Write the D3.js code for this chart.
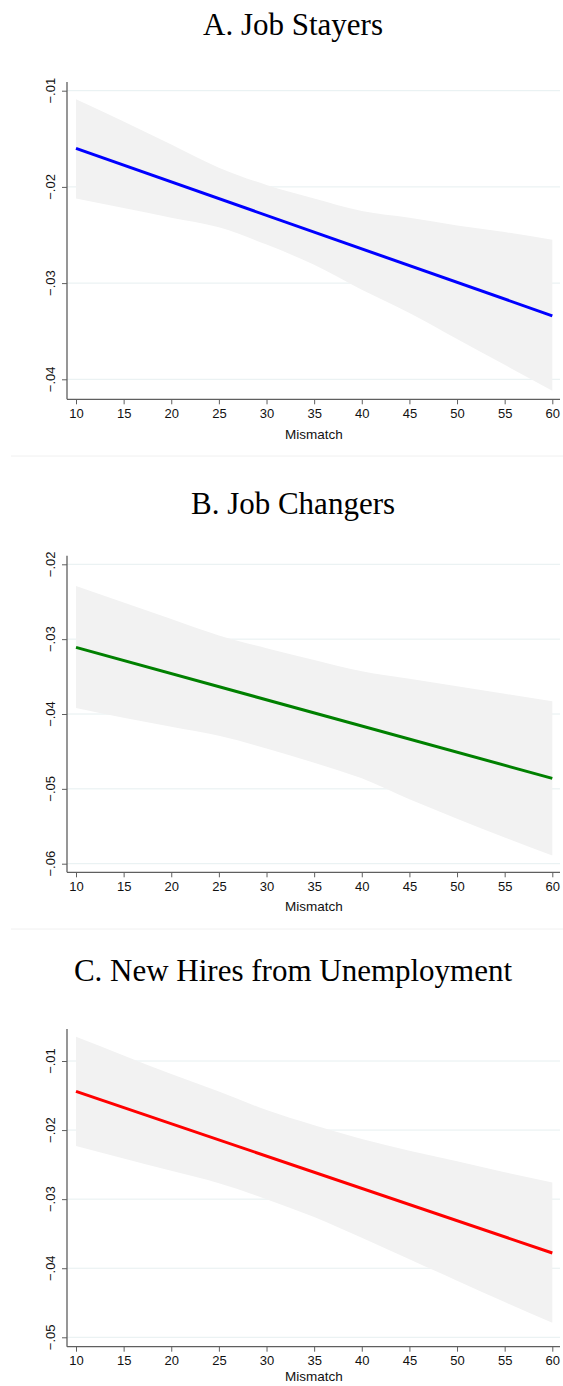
<!DOCTYPE html>
<html>
<head>
<meta charset="utf-8">
<script src="https://cdn.jsdelivr.net/npm/d3@7"></script>
<style>
  body { margin: 0; background: #fff; }
  svg { display: block; }
</style>
</head>
<body>
<svg id="fig" width="563" height="1386"></svg>
<script>
// Mismatch grid for the confidence bands, and endpoints of the linear fits
const mismatch = [10, 15, 20, 25, 30, 35, 40, 45, 50, 55, 60];
const fitEnds = [10, 60];
const xTicks = [10, 15, 20, 25, 30, 35, 40, 45, 50, 55, 60];
const xLabel = "Mismatch";

// A. Job Stayers
const stayersTitle = "A. Job Stayers";
const stayersFit = [-0.0160, -0.0334];
const stayersUpper = [-0.0109, -0.0132, -0.0156, -0.0180, -0.0198, -0.0212, -0.0225, -0.0232, -0.0240, -0.0247, -0.0255];
const stayersLower = [-0.0212, -0.0222, -0.0232, -0.0242, -0.0260, -0.0281, -0.0307, -0.0331, -0.0358, -0.0385, -0.0412];
const stayersTicks = [-0.01, -0.02, -0.03, -0.04];

// B. Job Changers
const changersTitle = "B. Job Changers";
const changersFit = [-0.0311, -0.0486];
const changersUpper = [-0.0229, -0.0251, -0.0273, -0.0295, -0.0312, -0.0328, -0.0343, -0.0353, -0.0363, -0.0373, -0.0383];
const changersLower = [-0.0392, -0.0405, -0.0417, -0.0429, -0.0446, -0.0465, -0.0486, -0.0514, -0.0540, -0.0565, -0.0589];
const changersTicks = [-0.02, -0.03, -0.04, -0.05, -0.06];

// C. New Hires from Unemployment
const hiresTitle = "C. New Hires from Unemployment";
const hiresFit = [-0.0144, -0.0378];
const hiresUpper = [-0.0065, -0.0092, -0.0119, -0.0144, -0.0171, -0.0193, -0.0213, -0.0230, -0.0245, -0.0261, -0.0276];
const hiresLower = [-0.0223, -0.0241, -0.0259, -0.0277, -0.0300, -0.0326, -0.0356, -0.0387, -0.0418, -0.0449, -0.0479];
const hiresTicks = [-0.01, -0.02, -0.03, -0.04, -0.05];

// Panel layout (pixels)
const panels = [
  { title: stayersTitle, fit: stayersFit, upper: stayersUpper, lower: stayersLower, ticks: stayersTicks,
    color: "#0000ff", titleY: 35, top: 82, tickPix: [90.7, 379.3], axisY: 399.3, labelY: 438.5 },
  { title: changersTitle, fit: changersFit, upper: changersUpper, lower: changersLower, ticks: changersTicks,
    color: "#008000", titleY: 513.6, top: 555.7, tickPix: [564.3, 863.7], axisY: 872.3, labelY: 911 },
  { title: hiresTitle, fit: hiresFit, upper: hiresUpper, lower: hiresLower, ticks: hiresTicks,
    color: "#ff0000", titleY: 981, top: 1029, tickPix: [1061, 1337.3], axisY: 1346.7, labelY: 1381 }
];
const separators = [456, 929];

const axisLeftX = 67, axisRightX = 560;
const axisColor = "#5f5f5f";
const gridColor = "#e6eff0";
const bandColor = "#f2f2f2";
const sans = "'Liberation Sans', Arial, Helvetica, sans-serif";
const serif = "'Liberation Serif', 'Times New Roman', Times, serif";

const svg = d3.select("#fig");
const x = d3.scaleLinear().domain([10, 60]).range([76, 552.3]);
const fmt = v => d3.format(".2f")(v).replace("0.", ".");

separators.forEach(sy => {
  svg.append("line")
    .attr("x1", 11).attr("x2", 563).attr("y1", sy).attr("y2", sy)
    .attr("stroke", "#f0f0f0").attr("stroke-width", 1);
});

panels.forEach(p => {
  const g = svg.append("g");
  const first = p.ticks[0], last = p.ticks[p.ticks.length - 1];
  const y = d3.scaleLinear().domain([first, last]).range(p.tickPix);

  // title
  g.append("text")
    .attr("x", 293).attr("y", p.titleY)
    .attr("text-anchor", "middle")
    .style("font-family", serif).style("font-size", "31px").attr("fill", "#000")
    .text(p.title);

  // horizontal gridlines
  g.selectAll(".grid").data(p.ticks).enter().append("line")
    .attr("x1", axisLeftX).attr("x2", axisRightX)
    .attr("y1", d => y(d)).attr("y2", d => y(d))
    .attr("stroke", gridColor).attr("stroke-width", 1);

  // confidence band
  const band = mismatch.map((m, i) => ({ m, hi: p.upper[i], lo: p.lower[i] }));
  g.append("path").datum(band)
    .attr("d", d3.area().curve(d3.curveMonotoneX)
      .x(d => x(d.m)).y0(d => y(d.lo)).y1(d => y(d.hi)))
    .attr("fill", bandColor);

  // fitted line
  const fit = fitEnds.map((m, i) => ({ m, v: p.fit[i] }));
  g.append("path").datum(fit)
    .attr("d", d3.line().x(d => x(d.m)).y(d => y(d.v)))
    .attr("fill", "none").attr("stroke", p.color).attr("stroke-width", 3);

  // y axis
  const yAxis = g.append("g").attr("transform", `translate(${axisLeftX},0)`)
    .call(d3.axisLeft(y).tickValues(p.ticks).tickSize(5).tickFormat(""));
  yAxis.select(".domain").remove();
  yAxis.selectAll("line").attr("stroke", axisColor);
  g.append("line")
    .attr("x1", axisLeftX).attr("x2", axisLeftX).attr("y1", p.top).attr("y2", p.axisY)
    .attr("stroke", axisColor).attr("stroke-width", 1.3);
  g.selectAll(".ylab").data(p.ticks).enter().append("text")
    .attr("x", 55).attr("y", d => y(d))
    .attr("transform", d => `rotate(-90,55,${y(d)})`)
    .attr("text-anchor", "middle")
    .style("font-family", sans).style("font-size", "13px").attr("fill", "#111")
    .text(fmt);

  // x axis
  const xAxis = g.append("g").attr("transform", `translate(0,${p.axisY})`)
    .call(d3.axisBottom(x).tickValues(xTicks).tickSize(5).tickPadding(4));
  xAxis.select(".domain").remove();
  xAxis.selectAll("line").attr("stroke", axisColor);
  xAxis.selectAll("text")
    .style("font-family", sans).style("font-size", "13px").attr("fill", "#111");
  g.append("line")
    .attr("x1", axisLeftX).attr("x2", axisRightX).attr("y1", p.axisY).attr("y2", p.axisY)
    .attr("stroke", axisColor).attr("stroke-width", 1.3);
  g.append("text")
    .attr("x", 314).attr("y", p.labelY)
    .attr("text-anchor", "middle")
    .style("font-family", sans).style("font-size", "13.5px").attr("fill", "#111")
    .text(xLabel);
});
</script>
</body>
</html>
